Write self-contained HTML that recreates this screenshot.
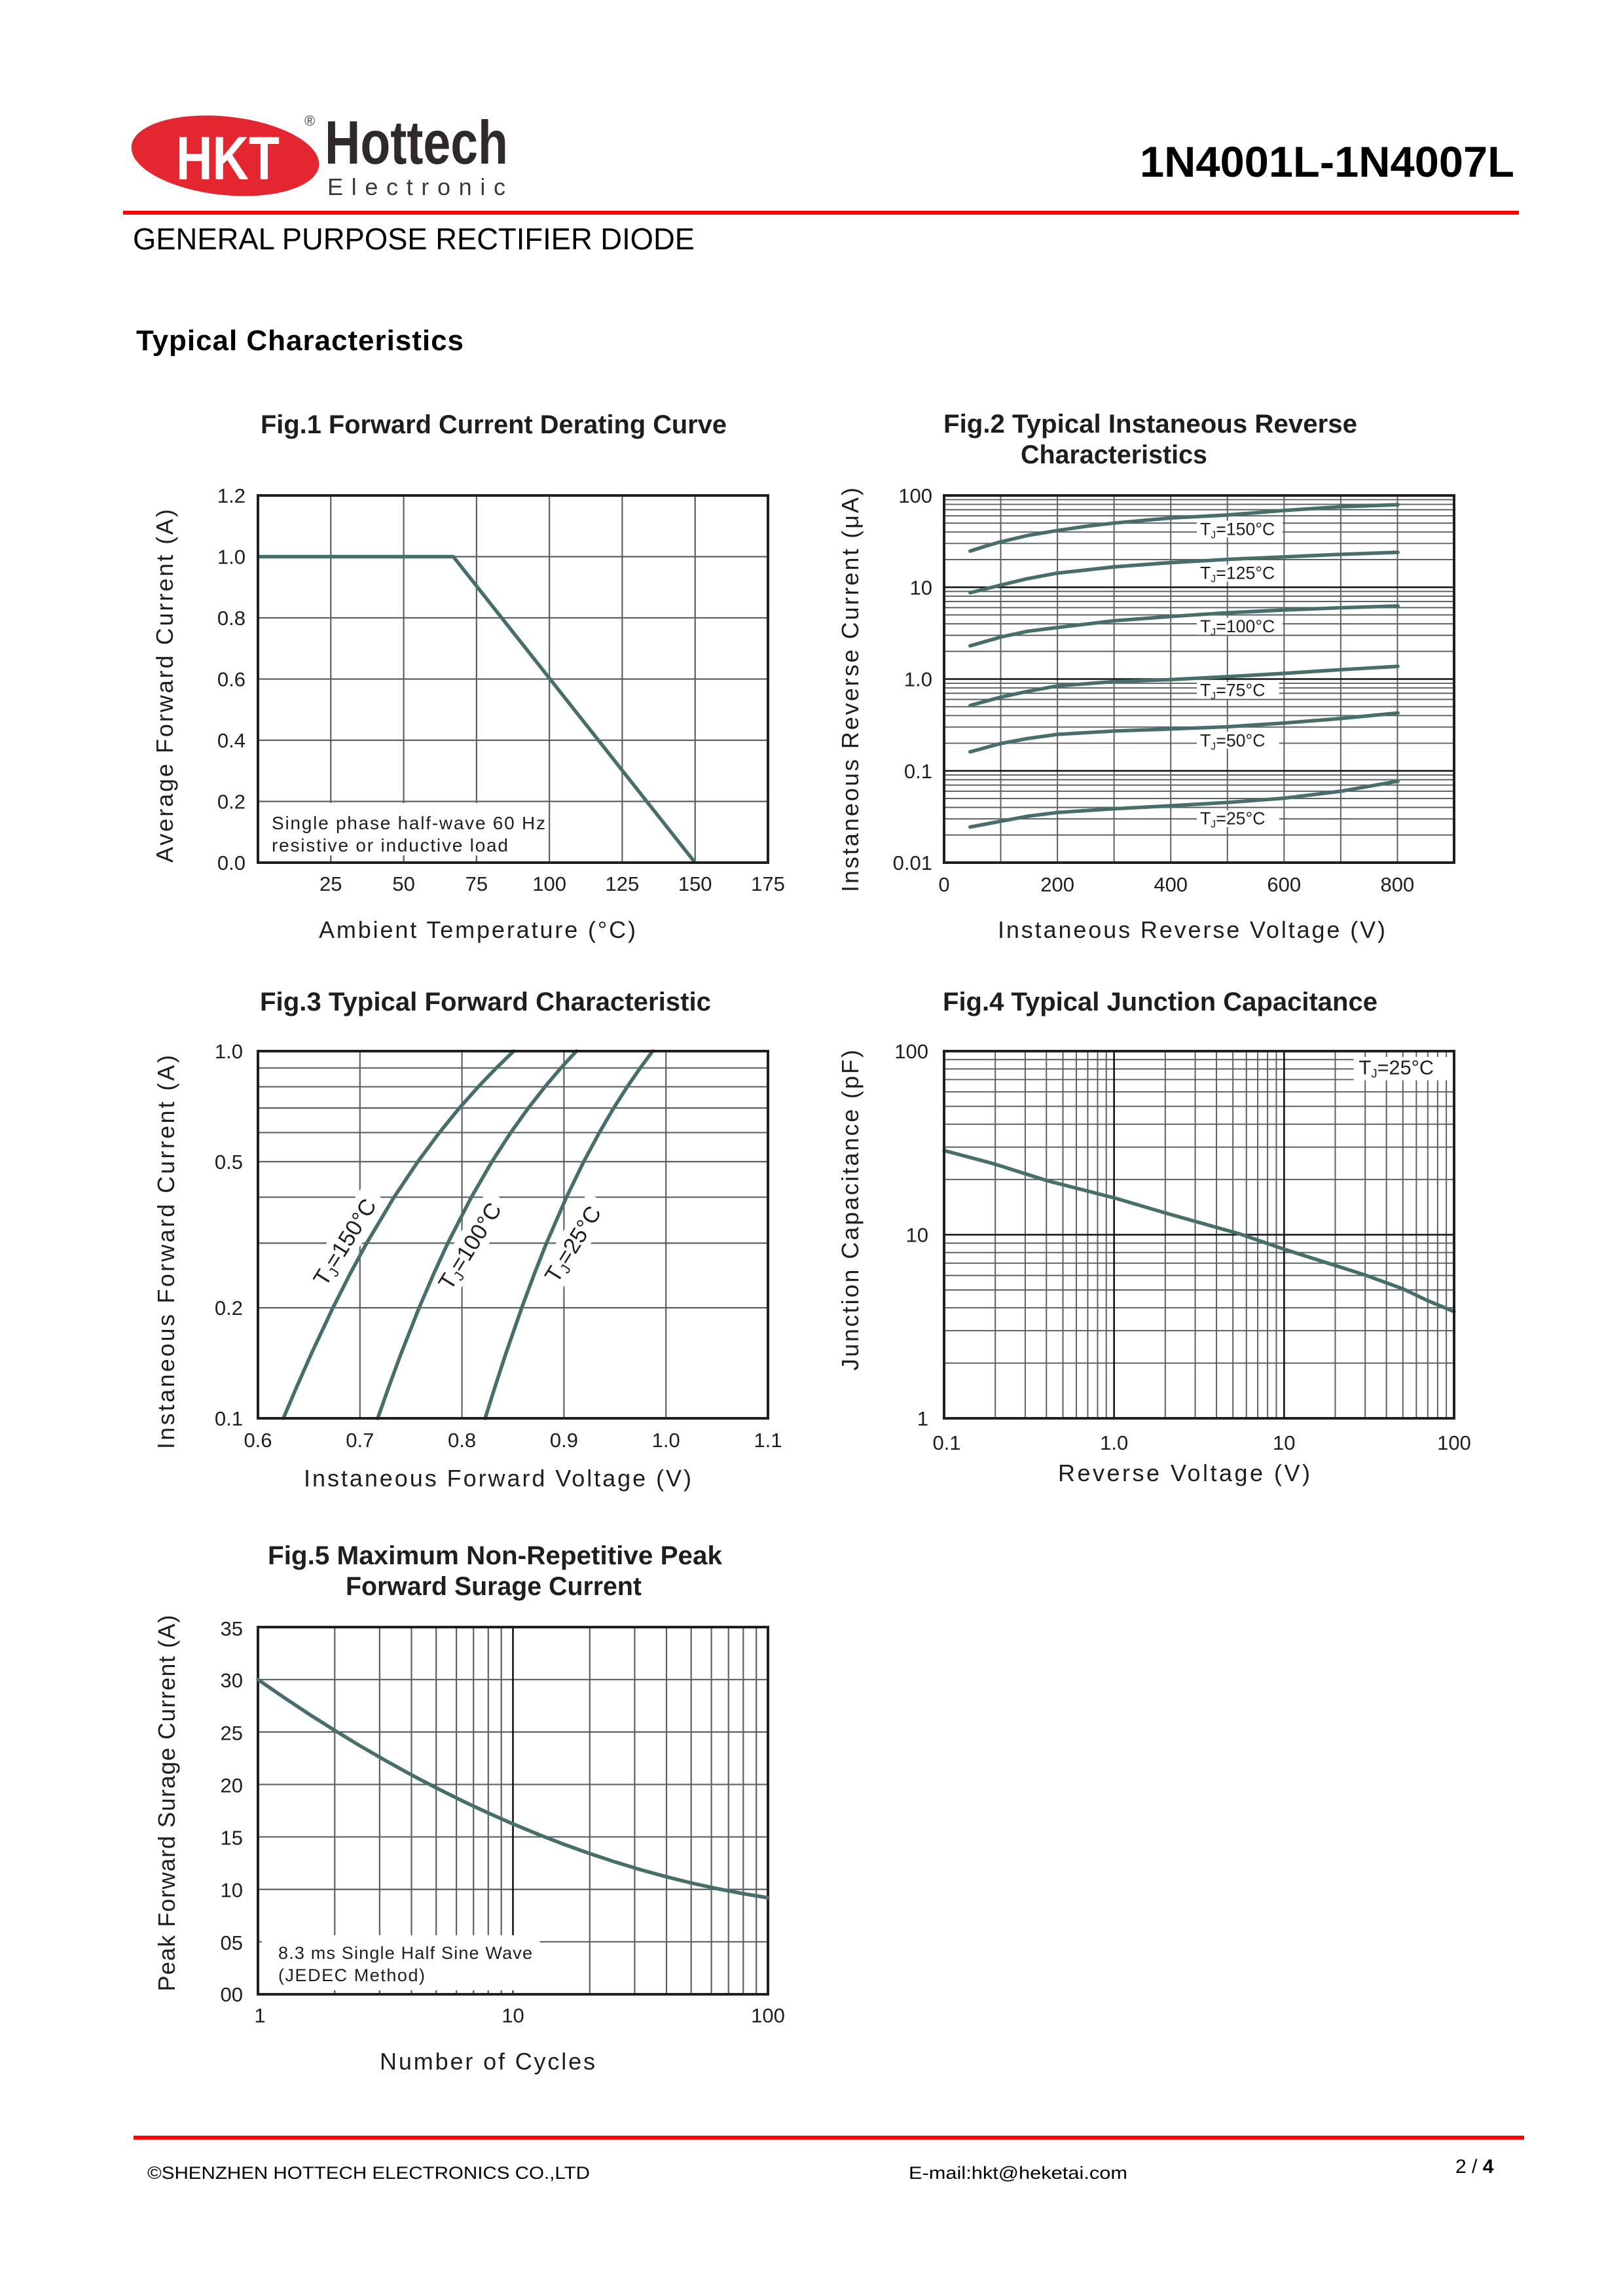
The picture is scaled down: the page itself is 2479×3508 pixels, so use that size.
<!DOCTYPE html>
<html>
<head>
<meta charset="utf-8">
<style>
html,body{margin:0;padding:0;background:#fff;}
svg{display:block;}
text{font-family:"Liberation Sans",Arial,sans-serif;fill:#1e1e1e;}
</style>
</head>
<body>
<svg xmlns="http://www.w3.org/2000/svg" width="2479" height="3508" viewBox="0 0 2479 3508">
<rect x="0" y="0" width="2479" height="3508" fill="#fff"/>

<!-- ================= HEADER ================= -->
<ellipse cx="344" cy="238" rx="144" ry="60" transform="rotate(6 344 238)" fill="#e3262f"/>
<text x="269" y="274" font-size="94" font-weight="bold" textLength="158" lengthAdjust="spacingAndGlyphs" style="fill:#fff">HKT</text>
<text x="465" y="192" font-size="22" style="fill:#444">®</text>
<text x="496" y="250" font-size="94" font-weight="bold" textLength="280" lengthAdjust="spacingAndGlyphs" style="fill:#2f2a29">Hottech</text>
<text x="500" y="298" font-size="36" textLength="272" lengthAdjust="spacing" style="fill:#3a3a3a">Electronic</text>
<text x="1741" y="270" font-size="66" font-weight="bold" textLength="572" lengthAdjust="spacingAndGlyphs" style="fill:#000">1N4001L-1N4007L</text>
<rect x="188" y="322" width="2132" height="6" fill="#ff0000"/>
<text x="203" y="381" font-size="46" textLength="858" lengthAdjust="spacingAndGlyphs" style="fill:#000">GENERAL PURPOSE RECTIFIER DIODE</text>
<text x="208" y="535" font-size="44" font-weight="bold" textLength="500" lengthAdjust="spacing" style="fill:#000">Typical  Characteristics</text>

<!-- ================= FIG 1 ================= -->
<text x="398" y="662" font-size="40" font-weight="bold" textLength="712" lengthAdjust="spacingAndGlyphs">Fig.1  Forward Current Derating Curve</text>
<g transform="matrix(0.98983 0 0 0.98942 4.007 8.009)">
<path d="M506.4 757V1324M618.9 757V1324M731.3 757V1324M843.7 757V1324M956.1 757V1324M1068.6 757V1324M394 851.5H1181M394 946H1181M394 1040.5H1181M394 1135H1181M394 1229.5H1181" stroke="#5b6061" stroke-width="2.2" fill="none"/>
<rect x="397" y="1232" width="440" height="81" fill="#fff"/>
<path d="M506.4 1313V1324M618.9 1313V1324M731.3 1313V1324" stroke="#5b6061" stroke-width="2.2"/>
<polyline points="394,851.5 695.5,851.5 1068.6,1324" fill="none" stroke="#476e6b" stroke-width="5.5" stroke-linejoin="round"/>
<rect x="394" y="757" width="787" height="567" fill="none" stroke="#1e1e1e" stroke-width="4"/>
</g>
<text x="415" y="1267" font-size="28" textLength="418" lengthAdjust="spacing">Single phase half-wave 60 Hz</text>
<text x="415" y="1301" font-size="28" textLength="361" lengthAdjust="spacing">resistive or inductive load</text>
<g font-size="31" text-anchor="end">
<text x="375" y="768">1.2</text><text x="375" y="861.5">1.0</text><text x="375" y="955">0.8</text><text x="375" y="1048.5">0.6</text><text x="375" y="1142">0.4</text><text x="375" y="1235.5">0.2</text><text x="375" y="1329">0.0</text>
</g>
<g font-size="31" text-anchor="middle">
<text x="505.3" y="1361">25</text><text x="616.6" y="1361">50</text><text x="727.9" y="1361">75</text><text x="839.1" y="1361">100</text><text x="950.4" y="1361">125</text><text x="1061.7" y="1361">150</text><text x="1173" y="1361">175</text>
</g>
<text x="487" y="1433" font-size="36" textLength="484" lengthAdjust="spacing">Ambient Temperature (°C)</text>
<text transform="translate(264 1048) rotate(-90)" x="0" y="0" font-size="36" text-anchor="middle" textLength="540" lengthAdjust="spacing">Average Forward Current (A)</text>

<!-- ================= FIG 2 ================= -->
<text x="1441" y="661" font-size="40" font-weight="bold" textLength="632" lengthAdjust="spacingAndGlyphs">Fig.2  Typical Instaneous Reverse</text>
<text x="1559" y="708" font-size="40" font-weight="bold" textLength="285" lengthAdjust="spacingAndGlyphs">Characteristics</text>
<g transform="matrix(0.98983 0 0 0.98942 14.666 8.009)">
<path d="M1529.4 757V1324M1616.9 757V1324M1704.3 757V1324M1791.8 757V1324M1879.2 757V1324M1966.7 757V1324M2054.1 757V1324M2141.6 757V1324
M1442 856.1H2229M1442 831.1H2229M1442 813.4H2229M1442 799.7H2229M1442 788.5H2229M1442 779H2229M1442 770.7H2229M1442 763.5H2229
M1442 997.8H2229M1442 972.9H2229M1442 955.2H2229M1442 941.4H2229M1442 930.2H2229M1442 920.7H2229M1442 912.5H2229M1442 905.2H2229
M1442 1139.6H2229M1442 1114.6H2229M1442 1096.9H2229M1442 1083.2H2229M1442 1072H2229M1442 1062.5H2229M1442 1054.2H2229M1442 1047H2229
M1442 1281.3H2229M1442 1256.4H2229M1442 1238.7H2229M1442 1224.9H2229M1442 1213.7H2229M1442 1204.2H2229M1442 1196H2229M1442 1188.7H2229" stroke="#5b6061" stroke-width="2" fill="none"/>
<path d="M1442 898.75H2229M1442 1040.5H2229M1442 1182.25H2229" stroke="#111" stroke-width="2.6" fill="none"/>
<g fill="#fff">
<rect x="1832" y="796" width="132" height="26"/>
<rect x="1832" y="864" width="132" height="26"/>
<rect x="1832" y="946" width="132" height="26"/>
<rect x="1832" y="1045" width="127" height="26"/>
<rect x="1832" y="1122" width="127" height="26"/>
<rect x="1832" y="1243" width="127" height="26"/>
</g>
<g font-size="27">
<text x="1837" y="818">T<tspan font-size="16" dy="5">J</tspan><tspan dy="-5">=150°C</tspan></text>
<text x="1837" y="886">T<tspan font-size="16" dy="5">J</tspan><tspan dy="-5">=125°C</tspan></text>
<text x="1837" y="968.5">T<tspan font-size="16" dy="5">J</tspan><tspan dy="-5">=100°C</tspan></text>
<text x="1837" y="1067">T<tspan font-size="16" dy="5">J</tspan><tspan dy="-5">=75°C</tspan></text>
<text x="1837" y="1144.5">T<tspan font-size="16" dy="5">J</tspan><tspan dy="-5">=50°C</tspan></text>
<text x="1837" y="1265">T<tspan font-size="16" dy="5">J</tspan><tspan dy="-5">=25°C</tspan></text>
</g>
<g fill="none" stroke="#476e6b" stroke-width="5.5" stroke-linecap="round" stroke-linejoin="round">
<polyline points="1482.2,842.9 1506.2,835.2 1529.3,828.6 1570.5,818.9 1616.5,811.2 1661.5,804.6 1704.3,799.6 1791.6,791.8 1878.9,787.2 1966.7,780.2 2054.5,774.4 2142.3,771.3"/>
<polyline points="1482.2,907.2 1529.3,895.5 1570.5,885.5 1616.5,877 1704.3,867.3 1791.6,860.7 1878.9,855.7 1966.7,851.8 2054.5,847.9 2142.3,844.8"/>
<polyline points="1482.2,989.2 1529.3,975.7 1570.5,966.8 1616.5,961 1704.3,950.5 1791.6,943.9 1878.9,938.1 1966.7,933.9 2054.5,930.4 2142.3,927.7"/>
<polyline points="1482.2,1081.3 1529.3,1068.5 1570.5,1059.6 1616.5,1051.1 1704.3,1044.5 1791.6,1041.4 1878.9,1036.8 1966.7,1031.8 2054.5,1026 2142.3,1020.9"/>
<polyline points="1482.2,1152.9 1529.3,1140.1 1570.5,1132.4 1616.5,1126 1704.3,1120.8 1791.6,1117.6 1878.9,1114.2 1966.7,1108.4 2054.5,1101.4 2142.3,1092.9"/>
<polyline points="1482.2,1269 1529.3,1260.1 1570.5,1252.4 1616.5,1246.6 1704.3,1240.8 1791.6,1236.2 1878.9,1231.1 1966.7,1224.5 2054.5,1213.7 2142.3,1198.2"/>
</g>
<rect x="1442" y="757" width="787" height="567" fill="none" stroke="#1e1e1e" stroke-width="4"/>
</g>
<g font-size="31" text-anchor="end">
<text x="1424" y="768">100</text><text x="1424" y="908.25">10</text><text x="1424" y="1048.5">1.0</text><text x="1424" y="1188.75">0.1</text><text x="1424" y="1329">0.01</text>
</g>
<g font-size="31" text-anchor="middle">
<text x="1442" y="1362">0</text><text x="1615.1" y="1362">200</text><text x="1788.2" y="1362">400</text><text x="1961.3" y="1362">600</text><text x="2134.4" y="1362">800</text>
</g>
<text x="1524" y="1433" font-size="36" textLength="592" lengthAdjust="spacing">Instaneous Reverse Voltage (V)</text>
<text transform="translate(1311 1054) rotate(-90)" x="0" y="0" font-size="36" text-anchor="middle" textLength="618" lengthAdjust="spacing">Instaneous Reverse Current (μA)</text>

<!-- ================= FIG 3 ================= -->
<text x="397" y="1544" font-size="40" font-weight="bold" textLength="689" lengthAdjust="spacingAndGlyphs">Fig.3  Typical Forward Characteristic</text>
<g transform="matrix(0.98983 0 0 0.98942 4.007 16.99)">
<path d="M551.4 1606V2173M708.8 1606V2173M866.2 1606V2173M1023.6 1606V2173M394 2002.3H1181M394 1902.5H1181M394 1831.6H1181M394 1776.7H1181M394 1731.8H1181M394 1693.8H1181M394 1661H1181M394 1632H1181" stroke="#5b6061" stroke-width="2.2" fill="none"/>
<g transform="translate(528 1901) rotate(-58)">
<rect x="-88" y="-23" width="176" height="46" fill="#fff"/>
<text x="0" y="12" font-size="35" text-anchor="middle">T<tspan font-size="22" dy="6">J</tspan><tspan dy="-6">=150°C</tspan></text>
</g>
<g transform="translate(721 1907) rotate(-58)">
<rect x="-88" y="-23" width="176" height="46" fill="#fff"/>
<text x="0" y="12" font-size="35" text-anchor="middle">T<tspan font-size="22" dy="6">J</tspan><tspan dy="-6">=100°C</tspan></text>
</g>
<g transform="translate(880 1904) rotate(-58)">
<rect x="-80" y="-23" width="160" height="46" fill="#fff"/>
<text x="0" y="12" font-size="35" text-anchor="middle">T<tspan font-size="22" dy="6">J</tspan><tspan dy="-6">=25°C</tspan></text>
</g>
</g>
<g fill="none" stroke="#476e6b" stroke-width="5.5" stroke-linecap="round" stroke-linejoin="round">
<polyline points="432.8,2167 451.6,2122.6 475.6,2068.2 508.5,1998.1 536,1943.8 560.1,1899.3 601.8,1829.2 638.2,1774.9 671.1,1730.5 701.7,1692.9 730.6,1660.4 758.1,1631.7 784.6,1606"/>
<polyline points="576.9,2167 592.5,2122.6 612.5,2068.2 640.2,1998.1 663.5,1943.8 684,1899.3 719.9,1829.2 751.4,1774.9 780.1,1730.5 807,1692.9 832.4,1660.4 856.8,1631.7 880.3,1606"/>
<polyline points="741,2167 754.9,2122.6 772.6,2068.2 796.9,1998.1 817.1,1943.8 834.7,1899.3 865.2,1829.2 891.6,1774.9 915.4,1730.5 937.4,1692.9 958.1,1660.4 977.9,1631.7 996.8,1606"/>
</g>
<rect x="394" y="1606" width="779" height="561" fill="none" stroke="#1e1e1e" stroke-width="4"/>
<g font-size="31" text-anchor="end">
<text x="371" y="1617">1.0</text><text x="371" y="1785.9">0.5</text><text x="371" y="2009.1">0.2</text><text x="371" y="2178">0.1</text>
</g>
<g font-size="31" text-anchor="middle">
<text x="394" y="2211">0.6</text><text x="549.8" y="2211">0.7</text><text x="705.6" y="2211">0.8</text><text x="861.4" y="2211">0.9</text><text x="1017.2" y="2211">1.0</text><text x="1173" y="2211">1.1</text>
</g>
<text x="464" y="2271" font-size="36" textLength="592" lengthAdjust="spacing">Instaneous Forward Voltage (V)</text>
<text transform="translate(266 1913) rotate(-90)" x="0" y="0" font-size="36" text-anchor="middle" textLength="602" lengthAdjust="spacing">Instaneous Forward Current  (A)</text>

<!-- ================= FIG 4 ================= -->
<text x="1440" y="1544" font-size="40" font-weight="bold" textLength="664" lengthAdjust="spacingAndGlyphs">Fig.4  Typical Junction Capacitance</text>
<g transform="matrix(0.98983 0 0 0.98942 14.666 16.99)">
<path d="M1521 1606V2173M1567.2 1606V2173M1599.9 1606V2173M1625.4 1606V2173M1646.1 1606V2173M1663.7 1606V2173M1678.9 1606V2173M1692.3 1606V2173
M1783.3 1606V2173M1829.5 1606V2173M1862.3 1606V2173M1887.7 1606V2173M1908.5 1606V2173M1926 1606V2173M1941.2 1606V2173M1954.7 1606V2173
M2045.6 1606V2173M2091.8 1606V2173M2124.6 1606V2173M2150 1606V2173M2170.8 1606V2173M2188.4 1606V2173M2203.6 1606V2173M2217 1606V2173
M1442 2087.7H2229M1442 2037.7H2229M1442 2002.3H2229M1442 1974.8H2229M1442 1952.4H2229M1442 1933.4H2229M1442 1917H2229M1442 1902.5H2229
M1442 1804.2H2229M1442 1754.2H2229M1442 1718.8H2229M1442 1691.3H2229M1442 1668.9H2229M1442 1649.9H2229M1442 1633.5H2229M1442 1619H2229" stroke="#5b6061" stroke-width="2" fill="none"/>
<path d="M1704.3 1606V2173M1966.7 1606V2173M1442 1889.5H2229" stroke="#111" stroke-width="2.6" fill="none"/>
<rect x="2074" y="1615" width="153" height="36" fill="#fff"/>
<text x="2082" y="1642" font-size="31">T<tspan font-size="19" dy="5">J</tspan><tspan dy="-5">=25°C</tspan></text>
<polyline points="1442,1759.5 1517.5,1779.6 1601.3,1806.1 1704.6,1832.6 1785.2,1856.4 1898.1,1888.2 1967.1,1912 2033.6,1933.2 2091.6,1951.7 2149.7,1972.9 2188.4,1991.4 2229,2008.3" fill="none" stroke="#476e6b" stroke-width="5.5" stroke-linecap="round" stroke-linejoin="round"/>
<rect x="1442" y="1606" width="787" height="567" fill="none" stroke="#1e1e1e" stroke-width="4"/>
</g>
<g font-size="31" text-anchor="end">
<text x="1418" y="1617">100</text><text x="1418" y="1897.5">10</text><text x="1418" y="2178">1</text>
</g>
<g font-size="31" text-anchor="middle">
<text x="1446" y="2215">0.1</text><text x="1701.7" y="2215">1.0</text><text x="1961.3" y="2215">10</text><text x="2221" y="2215">100</text>
</g>
<text x="1616" y="2263" font-size="36" textLength="385" lengthAdjust="spacing">Reverse  Voltage (V)</text>
<text transform="translate(1311 1849) rotate(-90)" x="0" y="0" font-size="36" text-anchor="middle" textLength="490" lengthAdjust="spacing">Junction Capacitance (pF)</text>

<!-- ================= FIG 5 ================= -->
<text x="409" y="2390" font-size="40" font-weight="bold" textLength="694" lengthAdjust="spacingAndGlyphs">Fig.5  Maximum Non-Repetitive Peak</text>
<text x="528" y="2437" font-size="40" font-weight="bold" textLength="452" lengthAdjust="spacingAndGlyphs">Forward Surage Current</text>
<g transform="matrix(0.98983 0 0 0.99117 4.007 27.9)">
<path d="M512.5 2480V3046M581.8 2480V3046M630.9 2480V3046M669 2480V3046M700.2 2480V3046M726.6 2480V3046M749.4 2480V3046M769.5 2480V3046
M906 2480V3046M975.3 2480V3046M1024.4 2480V3046M1062.5 2480V3046M1093.7 2480V3046M1120.1 2480V3046M1142.9 2480V3046M1163 2480V3046
M394 2965.1H1181M394 2884.3H1181M394 2803.4H1181M394 2722.6H1181M394 2641.7H1181M394 2560.9H1181" stroke="#5b6061" stroke-width="2.2" fill="none"/>
<path d="M787.5 2480V3046" stroke="#111" stroke-width="2.6" fill="none"/>
<rect x="397" y="2955" width="432" height="85" fill="#fff"/>
<path d="M512.5 3040V3046M581.8 3040V3046M630.9 3040V3046M669 3040V3046M700.2 3040V3046M726.6 3040V3046M749.4 3040V3046M769.5 3040V3046M787.5 3040V3046M394 2965.1H400" stroke="#5b6061" stroke-width="2.2" fill="none"/>
<rect x="394" y="2480" width="787" height="566" fill="none" stroke="#1e1e1e" stroke-width="4"/>
</g>
<polyline points="394,2566.1 432.95,2593 471.9,2618.9 510.85,2643.6 549.8,2667.3 588.75,2689.9 627.7,2711.4 666.65,2731.8 705.6,2751.2 744.55,2769.5 783.5,2786.7 822.45,2802.8 861.4,2817.9 900.35,2831.9 939.3,2844.8 978.25,2856.6 1017.2,2867.3 1056.15,2877 1095.1,2885.6 1134.05,2893.1 1173,2899.5" fill="none" stroke="#476e6b" stroke-width="5.5" stroke-linecap="round" stroke-linejoin="round"/>
<text x="425" y="2993" font-size="27" textLength="388" lengthAdjust="spacing">8.3 ms Single Half Sine Wave</text>
<text x="425" y="3027" font-size="27" textLength="224" lengthAdjust="spacing">(JEDEC Method)</text>
<g font-size="31" text-anchor="end">
<text x="371" y="2499">35</text><text x="371" y="2578.1">30</text><text x="371" y="2658.3">25</text><text x="371" y="2738.4">20</text><text x="371" y="2818.6">15</text><text x="371" y="2898.7">10</text><text x="371" y="2978.9">05</text><text x="371" y="3058">00</text>
</g>
<g font-size="31" text-anchor="middle">
<text x="397" y="3090">1</text><text x="783.5" y="3090">10</text><text x="1173" y="3090">100</text>
</g>
<text x="580" y="3162" font-size="36" textLength="329" lengthAdjust="spacing">Number of Cycles</text>
<text transform="translate(267 2755) rotate(-90)" x="0" y="0" font-size="36" text-anchor="middle" textLength="575" lengthAdjust="spacing">Peak Forward Surage Current (A)</text>

<!-- ================= FOOTER ================= -->
<rect x="204" y="3263" width="2124" height="6" fill="#ff0000"/>
<text x="225" y="3329" font-size="27" textLength="676" lengthAdjust="spacingAndGlyphs" style="fill:#000">©SHENZHEN HOTTECH ELECTRONICS CO.,LTD</text>
<text x="1388" y="3329" font-size="27" textLength="334" lengthAdjust="spacingAndGlyphs" style="fill:#000">E-mail:hkt@heketai.com</text>
<text x="2223" y="3320" font-size="30" style="fill:#000">2 / <tspan font-weight="bold">4</tspan></text>
</svg>
</body>
</html>
